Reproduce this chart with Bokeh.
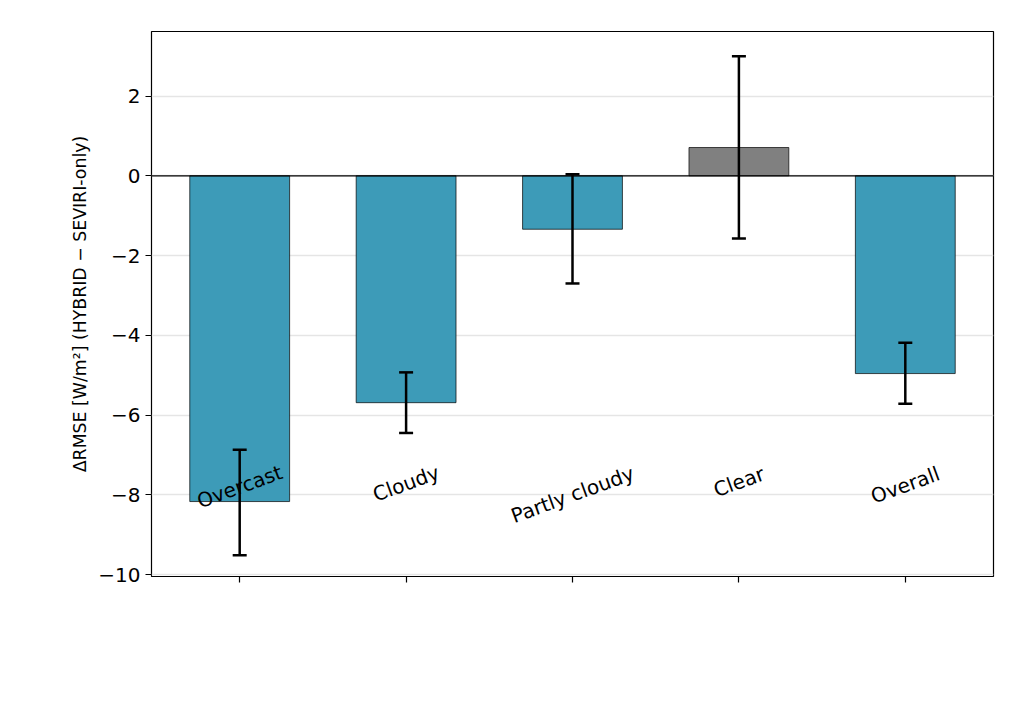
import math
from bokeh.plotting import figure
from bokeh.models import Whisker, ColumnDataSource, FixedTicker, Span, Range1d, Label
from bokeh.embed import file_html
from bokeh.resources import INLINE

categories = ["Overcast", "Cloudy", "Partly cloudy", "Clear", "Overall"]
values = [-8.17, -5.69, -1.34, 0.71, -4.96]
err_low = [-9.52, -6.45, -2.70, -1.57, -5.72]
err_high = [-6.87, -4.93, 0.04, 3.00, -4.19]
colors = ["#3d9bb8" if v < 0 else "#808080" for v in values]

xs = list(range(len(categories)))
src = ColumnDataSource(dict(x=xs, top=values, color=colors, lo=err_low, hi=err_high))

H = 700
p = figure(width=1000, height=H, output_backend="svg", toolbar_location=None,
           x_range=Range1d(-0.53, 4.53), y_range=Range1d(-10.05, 3.62),
           min_border_left=151, min_border_top=31, min_border_right=7, min_border_bottom=124)
p.vbar(x="x", top="top", bottom=0, width=0.6, fill_color="color", line_color="black",
       line_width=0.7, source=src)
p.add_layout(Span(location=0, dimension="width", line_color="black", line_width=1.2))
w = Whisker(base="x", lower="lo", upper="hi", source=src, line_color="black", line_width=2.5,
            level="overlay")
w.upper_head.size = 14; w.lower_head.size = 14
w.upper_head.line_width = 2.5; w.lower_head.line_width = 2.5
p.add_layout(w)

p.xaxis.ticker = FixedTicker(ticks=xs)
p.xaxis.major_label_text_color = None
ang = math.radians(20)
frame_bottom = 576
for i, c in enumerate(categories):
    tw = 9.3 * len(c)
    th = 20
    hb = tw * math.sin(ang) + th * math.cos(ang)
    cy = frame_bottom + 12 + hb / 2
    p.add_layout(Label(x=i, y=H - cy, x_units="data", y_units="screen", text=c,
                       angle=ang, text_align="center", text_baseline="middle",
                       text_font="DejaVu Sans", text_font_size="15pt", text_color="black"))
p.yaxis.ticker = FixedTicker(ticks=[-10, -8, -6, -4, -2, 0, 2])
p.yaxis.major_label_overrides = {t: (str(t) if t >= 0 else "\u2212" + str(-t)) for t in [-10, -8, -6, -4, -2, 0, 2]}
p.yaxis.major_label_text_font = "DejaVu Sans"
p.yaxis.major_label_text_font_size = "15pt"
p.yaxis.major_label_text_color = "black"
for ax in (p.xaxis, p.yaxis):
    ax.axis_line_color = None
    ax.major_tick_line_color = "black"
    ax.major_tick_line_width = 1.2
    ax.major_tick_out = 6
    ax.major_tick_in = 0
    ax.minor_tick_line_color = None
p.yaxis.axis_label = "\u0394RMSE [W/m\u00b2] (HYBRID \u2212 SEVIRI-only)"
p.yaxis.axis_label_text_font = "DejaVu Sans"
p.yaxis.axis_label_text_font_style = "normal"
p.yaxis.axis_label_text_font_size = "13pt"
p.yaxis.axis_label_text_color = "black"
p.xgrid.grid_line_color = None
p.ygrid.grid_line_color = "#e5e5e5"
p.ygrid.grid_line_width = 1.5
p.outline_line_color = "black"
p.outline_line_width = 1.2

open("out.html", "w").write(file_html(p, INLINE))
